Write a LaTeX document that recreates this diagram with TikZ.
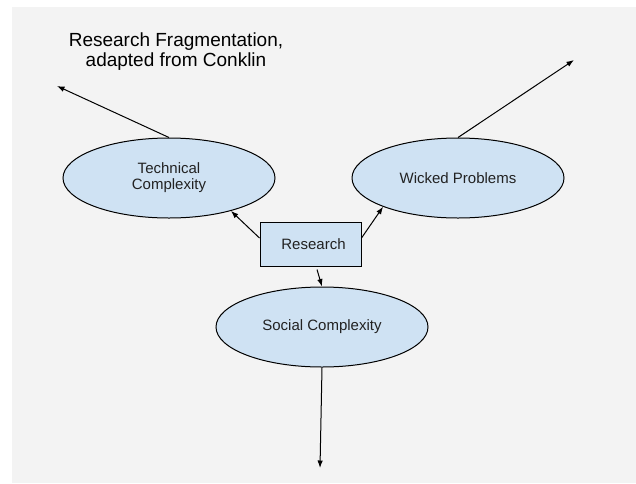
\documentclass[tikz,border=0pt]{standalone}
\usepackage{fontspec}
\setmainfont{Liberation Sans}
\usetikzlibrary{shapes.geometric,arrows.meta}
\definecolor{bgray}{HTML}{F3F3F3}
\definecolor{lblue}{HTML}{CFE2F3}
\definecolor{txt}{HTML}{222222}
\tikzset{
  oval/.style={ellipse, draw=black, line width=1pt, fill=lblue, minimum width=212pt, minimum height=80pt, inner sep=0pt, text=txt, align=center, font=\fontsize{15}{16}\selectfont},
  rbox/.style={rectangle, draw=black, line width=1pt, fill=lblue, minimum width=101pt, minimum height=44pt, inner sep=0pt, text=txt, font=\fontsize{15}{16}\selectfont},
  arr/.style={line width=1pt, draw=black, -{Latex[length=7.5pt,width=5.5pt]}},
}
\begin{document}
\begin{tikzpicture}[x=1pt,y=-1pt]
\useasboundingbox (0,0) rectangle (636,483);
\fill[white] (0,0) rectangle (636,483);
\fill[bgray] (12,7) rectangle (636,483);

\node[anchor=north, inner sep=0pt, align=center, text=black, font=\fontsize{19}{20}\selectfont] (title) at (176,33) {Research Fragmentation,\\adapted from Conklin};

\node[oval] (tech) at (169,178) {Technical\\Complexity};
\node[oval] (wick) at (458,178) {Wicked Problems};
\node[oval] (soc) at (322,327) {Social Complexity};
\node[rbox] (res) at (310.5,244) {\hspace{6pt}Research};

\coordinate (tl) at (57,86);
\coordinate (tr) at (574,60);
\coordinate (bt) at (320,468);

\draw[arr] (tech.north) -- (tl);
\draw[arr] (wick.north) -- (tr);
\draw[arr] (soc.south) -- (bt);
\draw[arr] ([yshift=6pt]res.west) -- (tech.-28);
\draw[arr] ([yshift=6pt]res.east) -- (wick.201);
\draw[arr] ([xshift=6.5pt,yshift=-3pt]res.south) -- (soc.north);
\end{tikzpicture}
\end{document}
